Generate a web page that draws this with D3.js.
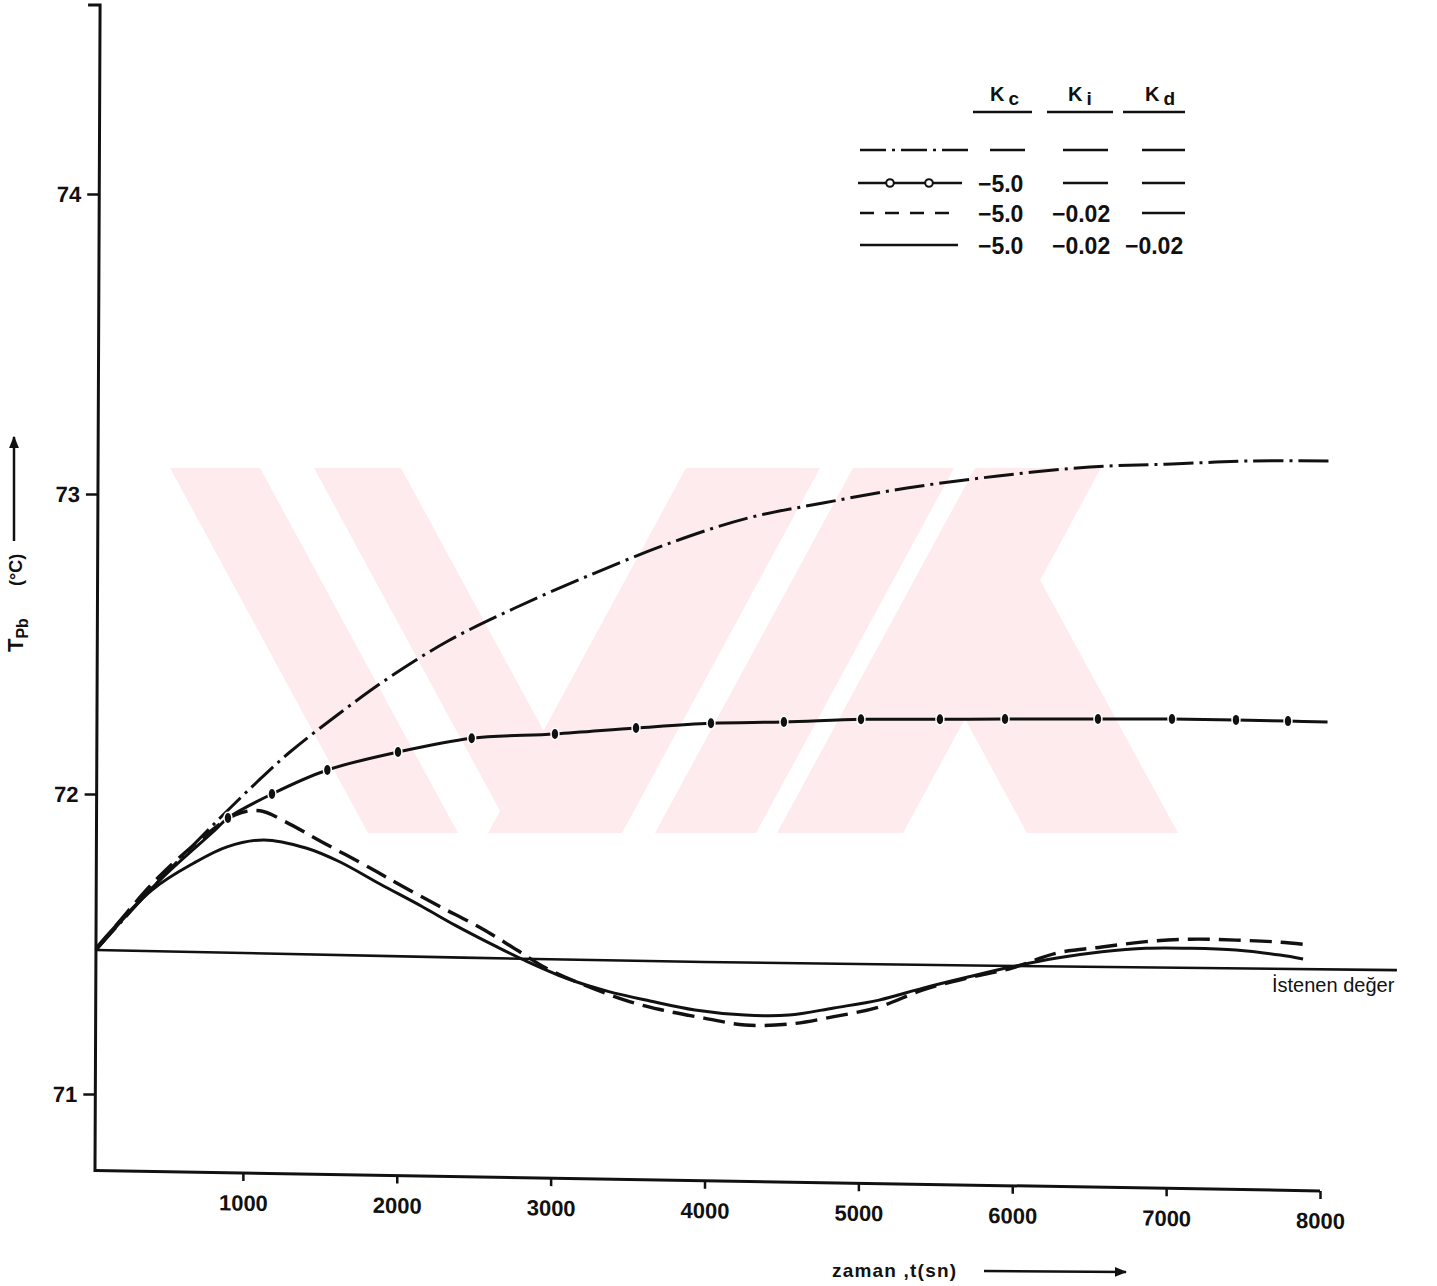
<!DOCTYPE html>
<html><head><meta charset="utf-8">
<script src="https://cdn.jsdelivr.net/npm/d3@7"></script>
<style>body{margin:0;background:#fff}</style>
</head><body><svg id="c" width="1437" height="1286"></svg>
<script>
// ---------- DATA ----------
// time (s) and temperature (°C)
const tDashDot = [45, 435, 832, 1092, 1306, 1631, 1956, 2333, 2768, 3256, 3795, 4283, 4770, 5316, 5907, 6505, 7038, 7545, 8065];
const vDashDot = [71.48, 71.70, 71.91, 72.04, 72.14, 72.27, 72.39, 72.51, 72.62, 72.73, 72.84, 72.92, 72.97, 73.02, 73.06, 73.09, 73.10, 73.11, 73.11];

const tCirc = [45, 435, 820, 903, 1189, 1549, 2008, 2487, 3028, 3555, 4042, 4516, 5017, 5530, 5953, 6557, 7038, 7454, 7792, 8049];
const vCirc = [71.48, 71.70, 71.88, 71.92, 72.00, 72.08, 72.14, 72.186, 72.20, 72.22, 72.236, 72.24, 72.249, 72.249, 72.25, 72.25, 72.25, 72.247, 72.243, 72.24];

const tDash = [45, 409, 682, 949, 1111, 1274, 1514, 1839, 2028, 2268, 2541, 2781, 2996, 3483, 3724, 3997, 4263, 4549, 4841, 5134, 5420, 5712, 5998, 6291, 6583, 6869, 7162, 7454, 7740, 7928];
const vDash = [71.48, 71.70, 71.83, 71.93, 71.944, 71.908, 71.84, 71.75, 71.695, 71.628, 71.555, 71.48, 71.413, 71.313, 71.28, 71.253, 71.23, 71.233, 71.258, 71.29, 71.347, 71.387, 71.42, 71.47, 71.49, 71.508, 71.516, 71.513, 71.506, 71.497];

const tSol = [45, 409, 682, 897, 1137, 1410, 1625, 1891, 2164, 2378, 2645, 2833, 3106, 3373, 3646, 3938, 4263, 4549, 4841, 5134, 5420, 5712, 5998, 6291, 6583, 6869, 7162, 7454, 7740, 7890];
const vSol = [71.487, 71.68, 71.77, 71.824, 71.847, 71.82, 71.775, 71.70, 71.625, 71.563, 71.492, 71.445, 71.385, 71.342, 71.31, 71.28, 71.263, 71.263, 71.287, 71.313, 71.353, 71.39, 71.424, 71.453, 71.474, 71.486, 71.486, 71.48, 71.463, 71.45];

const tSet = [45, 4000, 8500];
const vSet = [71.48, 71.44, 71.413];
const setLabel = "İstenen değer";

const xTicks = [1000, 2000, 3000, 4000, 5000, 6000, 7000, 8000];
const yTicks = [71, 72, 73, 74];

const legendKc = [null, "\u22125.0", "\u22125.0", "\u22125.0"];
const legendKi = [null, null, "\u22120.02", "\u22120.02"];
const legendKd = [null, null, null, "\u22120.02"];

// ---------- SETUP ----------
const FONT = "'Liberation Sans', Arial, sans-serif";
const svg = d3.select("#c");
svg.append("rect").attr("width", 1437).attr("height", 1286).attr("fill", "#fff");

const defs = svg.append("defs");
defs.append("marker").attr("id", "arr").attr("viewBox", "0 0 10 10")
  .attr("refX", 9).attr("refY", 5).attr("markerWidth", 5).attr("markerHeight", 5)
  .attr("orient", "auto").attr("markerUnits", "strokeWidth")
  .append("path").attr("d", "M0,1 L10,5 L0,9 Z").attr("fill", "#111");

// watermark (decorative)
const watermark = [
  [[170,468],[260,468],[458,833],[368,833]],
  [[314,468],[401,468],[599,833],[512,833]],
  [[686,468],[820,468],[622,833],[488,833]],
  [[853,468],[954,468],[756,833],[655,833]],
  [[975,468],[1101,468],[903,833],[777,833]],
  [[902,603],[1040,580],[1178,833],[1027,833]]
];
svg.append("g").selectAll("polygon").data(watermark).join("polygon")
  .attr("points", d => d.map(p => p.join(",")).join(" "))
  .attr("fill", "#fdebee");

const x = d3.scaleLinear().domain([0, 8000]).range([89, 1320]);
const y = d3.scaleLinear().domain([70.74, 74.63]).range([1172, 5]);

// ---------- AXES ----------
const yAxisG = svg.append("g").attr("transform", "translate(100.1,0) skewX(-0.25)");
yAxisG.call(d3.axisLeft(y).tickValues(yTicks).tickFormat(d3.format("d")).tickSize(12).tickPadding(6).tickSizeOuter(0));
yAxisG.select(".domain").remove();
yAxisG.append("path").attr("d", `M-12,${y(74.63)}H0V${y(70.74)}`)
  .attr("fill", "none").attr("stroke", "#111").attr("stroke-width", 3);
yAxisG.selectAll(".tick line").attr("stroke", "#111").attr("stroke-width", 2.5);
yAxisG.selectAll(".tick text").attr("font-family", FONT).attr("font-weight", "bold")
  .attr("font-size", 22).attr("fill", "#111");

const xAxisG = svg.append("g").attr("transform", "translate(0,1169) skewY(0.95)");
xAxisG.call(d3.axisBottom(x).tickValues(xTicks).tickFormat(d3.format("d")).tickSize(8).tickPadding(14).tickSizeOuter(0));
xAxisG.select(".domain").remove();
xAxisG.append("line").attr("x1", 95).attr("x2", x(8000)).attr("y1", 0).attr("y2", 0)
  .attr("stroke", "#111").attr("stroke-width", 3);
xAxisG.selectAll(".tick line").attr("stroke", "#111").attr("stroke-width", 2.5);
xAxisG.selectAll(".tick text").attr("font-family", FONT).attr("font-weight", "bold")
  .attr("font-size", 22).attr("fill", "#111");

// ---------- LINES ----------
const zip = (a, b) => a.map((t, i) => [t, b[i]]);
const line = d3.line().x(d => x(d[0])).y(d => y(d[1])).curve(d3.curveCatmullRom.alpha(0.5));
const plot = svg.append("g").attr("fill", "none").attr("stroke", "#111");

plot.append("path").attr("d", line(zip(tSet, vSet))).attr("stroke-width", 2.6);
plot.append("path").attr("d", line(zip(tDashDot, vDashDot))).attr("stroke-width", 3)
  .attr("stroke-dasharray", "30 6 3 6");
const circData = zip(tCirc, vCirc);
plot.append("path").attr("d", line(circData)).attr("stroke-width", 3);
plot.append("path").attr("d", line(zip(tDash, vDash))).attr("stroke-width", 3.4)
  .attr("stroke-dasharray", "22 9");
plot.append("path").attr("d", line(zip(tSol, vSol))).attr("stroke-width", 3);

svg.append("g").selectAll("ellipse").data(circData.slice(3, -1)).join("ellipse")
  .attr("cx", d => x(d[0])).attr("cy", d => y(d[1]))
  .attr("rx", 3.2).attr("ry", 5).attr("fill", "#111")
  .attr("stroke", "#fff").attr("stroke-width", 3).attr("paint-order", "stroke");

// setpoint label
svg.append("text").attr("x", 1272).attr("y", 992).attr("font-family", FONT)
  .attr("font-size", 20).attr("fill", "#111").text(setLabel);

// ---------- AXIS LABELS ----------
const yl1 = svg.append("text").attr("transform", "translate(23,652) rotate(-90)")
  .attr("font-family", FONT).attr("font-size", 22).attr("font-weight", "bold").attr("fill", "#111");
yl1.append("tspan").text("T");
yl1.append("tspan").attr("font-size", 16).attr("dy", 5).text("Pb");
svg.append("text").attr("transform", "translate(22,586) rotate(-90)")
  .attr("font-family", FONT).attr("font-size", 18).attr("font-weight", "bold").attr("fill", "#111").text("(°C)");
svg.append("line").attr("x1", 14).attr("x2", 14).attr("y1", 541).attr("y2", 437)
  .attr("stroke", "#111").attr("stroke-width", 2.5).attr("marker-end", "url(#arr)");

svg.append("text").attr("x", 832).attr("y", 1277).attr("font-family", FONT)
  .attr("font-size", 19).attr("font-weight", "bold").attr("letter-spacing", 1.2)
  .attr("fill", "#111").text("zaman ,t(sn)");
svg.append("line").attr("x1", 984).attr("x2", 1126).attr("y1", 1271).attr("y2", 1272)
  .attr("stroke", "#111").attr("stroke-width", 2.5).attr("marker-end", "url(#arr)");

// ---------- LEGEND ----------
const lg = svg.append("g").attr("font-family", FONT).attr("fill", "#111");
const heads = [["K", "c", 990, 973, 1032], ["K", "i", 1068, 1047, 1113], ["K", "d", 1145, 1123, 1185]];
heads.forEach(h => {
  const t = lg.append("text").attr("x", h[2]).attr("y", 101).attr("font-size", 20).attr("font-weight", "bold");
  t.append("tspan").text(h[0]);
  t.append("tspan").attr("dx", 4).attr("dy", 4).attr("font-size", 19).text(h[1]);
  lg.append("line").attr("x1", h[3]).attr("x2", h[4]).attr("y1", 112).attr("y2", 112)
    .attr("stroke", "#111").attr("stroke-width", 2.5);
});
const rowY = [150, 183, 213, 245];
const sx1 = 860, sx2 = 966;
lg.append("line").attr("x1", sx1).attr("x2", sx2 + 3).attr("y1", rowY[0]).attr("y2", rowY[0])
  .attr("stroke", "#111").attr("stroke-width", 2.5).attr("stroke-dasharray", "26 6 3 6");
lg.append("line").attr("x1", sx1 - 2).attr("x2", sx2 - 4).attr("y1", rowY[1]).attr("y2", rowY[1])
  .attr("stroke", "#111").attr("stroke-width", 2.5);
[890, 929].forEach(cx => lg.append("circle").attr("cx", cx).attr("cy", rowY[1]).attr("r", 3.8)
  .attr("fill", "#fff").attr("stroke", "#111").attr("stroke-width", 2));
lg.append("line").attr("x1", sx1).attr("x2", sx2 - 8).attr("y1", rowY[2]).attr("y2", rowY[2])
  .attr("stroke", "#111").attr("stroke-width", 2.5).attr("stroke-dasharray", "14 11");
lg.append("line").attr("x1", sx1).attr("x2", sx2 - 8).attr("y1", rowY[3]).attr("y2", rowY[3])
  .attr("stroke", "#111").attr("stroke-width", 2.5);

const cols = [[legendKc, 978, 990, 1025], [legendKi, 1052, 1063, 1108], [legendKd, 1125, 1142, 1185]];
cols.forEach(c => {
  c[0].forEach((v, i) => {
    if (v === null) {
      lg.append("line").attr("x1", c[2]).attr("x2", c[3]).attr("y1", rowY[i]).attr("y2", rowY[i])
        .attr("stroke", "#111").attr("stroke-width", 2.5);
    } else {
      lg.append("text").attr("x", c[1]).attr("y", rowY[i] + 9).attr("font-size", 23)
        .attr("font-weight", "bold").text(v);
    }
  });
});
</script></body></html>
